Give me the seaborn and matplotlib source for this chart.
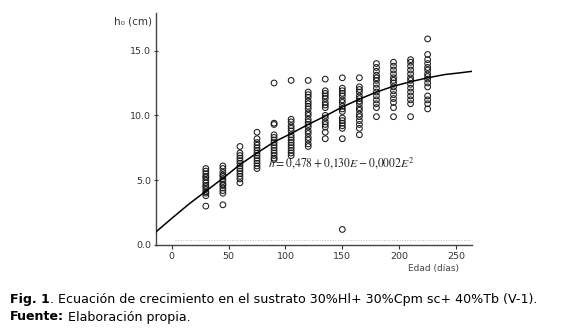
import numpy as np
import pandas as pd
import matplotlib
matplotlib.use("Agg")
import matplotlib.pyplot as plt
import seaborn as sns

# ---- data ----
days = [30, 45, 60, 75, 90, 105, 120, 135, 150, 165, 180, 195, 210, 225]
heights = [
    [5.9, 5.7, 5.5, 5.3, 5.2, 5.0, 4.8, 4.6, 4.5, 4.3, 4.1, 4.0, 3.8, 3.0],
    [6.1, 5.9, 5.6, 5.4, 5.3, 5.1, 4.9, 4.7, 4.6, 4.4, 4.2, 4.0, 3.1],
    [7.6, 7.1, 6.9, 6.7, 6.5, 6.3, 6.1, 5.9, 5.7, 5.5, 5.3, 5.1, 4.8],
    [8.7, 8.2, 7.9, 7.7, 7.5, 7.3, 7.1, 6.9, 6.7, 6.5, 6.3, 6.1, 5.9],
    [12.5, 9.4, 9.3, 8.5, 8.3, 8.1, 7.9, 7.7, 7.5, 7.3, 7.1, 6.9, 6.7, 6.6],
    [12.7, 9.7, 9.5, 9.2, 9.0, 8.8, 8.5, 8.3, 8.1, 7.9, 7.7, 7.5, 7.3, 7.1, 6.9],
    [12.7, 11.8, 11.6, 11.4, 11.1, 10.9, 10.7, 10.5, 10.2, 10.0, 9.7, 9.5, 9.3, 9.1, 8.8, 8.6, 8.3, 8.1, 7.8, 7.6],
    [12.8, 11.9, 11.7, 11.5, 11.3, 11.0, 10.8, 10.6, 10.0, 9.8, 9.5, 9.3, 9.1, 8.7, 8.2],
    [12.9, 12.1, 11.9, 11.7, 11.5, 11.2, 11.0, 10.7, 10.5, 10.3, 9.8, 9.6, 9.4, 9.2, 9.0, 8.2, 1.2],
    [12.9, 12.2, 12.0, 11.8, 11.5, 11.3, 11.1, 10.9, 10.6, 10.4, 10.1, 9.9, 9.6, 9.3, 9.0, 8.5],
    [14.0, 13.7, 13.4, 13.1, 12.9, 12.7, 12.4, 12.1, 11.8, 11.5, 11.2, 10.9, 10.6, 9.9],
    [14.1, 13.8, 13.5, 13.2, 12.9, 12.7, 12.5, 12.2, 11.9, 11.6, 11.3, 11.0, 10.6, 9.9],
    [14.3, 14.1, 13.8, 13.5, 13.2, 12.9, 12.7, 12.4, 12.1, 11.8, 11.5, 11.2, 10.9, 9.9],
    [15.9, 14.7, 14.3, 14.0, 13.7, 13.5, 13.2, 13.0, 12.8, 12.5, 12.2, 11.5, 11.2, 10.9, 10.5],
]
curve_days = [-14, 0, 15, 30, 45, 60, 75, 90, 105, 120, 135, 150, 165, 180, 195, 210, 225, 240, 255, 264]
curve_h = [1.0, 2.05, 3.15, 4.15, 5.15, 6.2, 7.1, 7.95, 8.6, 9.3, 9.95, 10.65, 11.25, 11.8, 12.25, 12.6, 12.9, 13.15, 13.3, 13.4]
xticks = [0, 50, 100, 150, 200, 250]
yticks = [0, 5, 10, 15]
ytick_labels = ["0.0", "5.0", "10.0", "15.0"]
equation = r"$h = 0{,}478 + 0{,}130E - 0{,}0002E^{2}$"
ylabel = "h\u2080 (cm)"
xlabel = "Edad (días)"

pts = pd.DataFrame({"E": [d for d, hs in zip(days, heights) for _ in hs],
                    "h": [v for hs in heights for v in hs]})
curve = pd.DataFrame({"E": curve_days, "h": curve_h})

sns.set_style("ticks")
plt.rcParams["font.family"] = ["DejaVu Sans"]
plt.rcParams["mathtext.fontset"] = "stix"

fig = plt.figure(figsize=(5.88, 3.31), dpi=100)
ax = fig.add_axes([156/588, 1-245/331, (472-156)/588, (245-13)/331])

sns.scatterplot(data=pts, x="E", y="h", ax=ax, s=17, facecolor="none",
                edgecolor="#1a1a1a", linewidth=0.75, zorder=3)
sns.lineplot(data=curve, x="E", y="h", ax=ax, color="black", lw=1.1, zorder=4)
ax.axhline(0.35, xmin=0.06, xmax=1.0, color="#bbbbbb", lw=0.7, ls=":")

ax.set_xlim(-13.8, 264)
ax.set_ylim(0, 17.9)
ax.set_xticks(xticks)
ax.set_yticks(yticks)
ax.set_yticklabels(ytick_labels)
ax.tick_params(axis="both", labelsize=6.8, length=3, width=0.8, colors="#333333",
               direction="inout", pad=2)
ax.tick_params(axis="x", direction="out", length=3)
for s in ["top", "right"]:
    ax.spines[s].set_visible(False)
for s in ["left", "bottom"]:
    ax.spines[s].set_color("#444444")
    ax.spines[s].set_linewidth(1.0)
ax.set_xlabel("")
ax.set_ylabel("")

ax.text(84.8, 6.35, equation, fontsize=8.5, va="center", ha="left", color="#222222")

fig.text(152/588, 1-22/331, ylabel, ha="right", va="center", fontsize=7.5, color="#333333")
fig.text(434/588, 1-268/331, xlabel, ha="center", va="center", fontsize=6.5, color="#444444")

# caption
fig.canvas.draw()
r = fig.canvas.get_renderer()
def line(y, parts):
    x = 10
    for txt, w in parts:
        t = fig.text(x/588, 1-y/331, txt, ha="left", va="center", fontsize=9.1,
                     fontweight=w, color="black")
        bb = t.get_window_extent(renderer=r)
        x = bb.x1
line(299, [("Fig. 1", "bold"), (". Ecuación de crecimiento en el sustrato 30%Hl+ 30%Cpm sc+ 40%Tb (V-1).", "normal")])
line(317, [("Fuente:", "bold"), (" Elaboración propia.", "normal")])

fig.savefig("out.png", dpi=100)
